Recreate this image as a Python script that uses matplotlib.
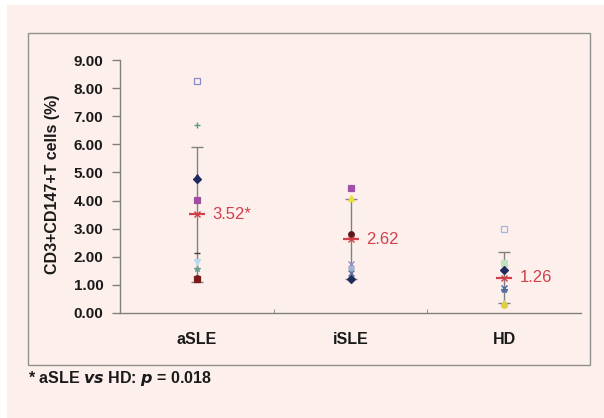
import matplotlib
matplotlib.use("Agg")
import matplotlib.pyplot as plt
from matplotlib.patches import Rectangle

plt.rcParams['font.family'] = ['Liberation Sans', 'DejaVu Sans']

# ---- data ----
categories = ["aSLE", "iSLE", "HD"]
means = [3.52, 2.62, 1.26]
sds = [2.40, 1.42, 0.92]
mean_labels = ["3.52*", "2.62", "1.26"]
yticks = [0, 1, 2, 3, 4, 5, 6, 7, 8, 9]

# individual points
aSLE_vals = [8.25, 6.70, 4.85, 4.75, 4.02, 2.13, 1.81, 1.57, 1.24, 1.20]
iSLE_vals = [4.45, 4.10, 2.80, 1.73, 1.55, 1.42, 1.20]
HD_vals = [2.98, 1.77, 1.53, 0.90, 0.82, 0.35, 0.28]

aSLE_style = [('s', '#8a8ac8', False), ('+', '#5a9a7a', True), ('^', '#2a2a6a', True),
              ('D', '#1f2a5e', True), ('s', '#a050a0', True), ('_', '#404040', True),
              ('v', '#b8d8f0', True), ('*', '#70a090', True), ('o', '#6a2a20', True),
              ('s', '#7a1a1a', True)]
iSLE_style = [('s', '#a050a8', True), ('^', '#e8e040', True), ('o', '#5a1a1a', True),
              ('x', '#9090c8', True), ('*', '#a0b0d0', True), ('x', '#6070a0', True),
              ('D', '#1f2a5e', True)]
HD_style = [('s', '#a0b8e0', False), ('s', '#c0e0c0', True), ('D', '#1f2a5e', True),
            ('x', '#4060a0', True), ('*', '#5070a0', True), ('^', '#c8d080', True),
            ('o', '#e0d040', True)]

all_vals = [aSLE_vals, iSLE_vals, HD_vals]
all_styles = [aSLE_style, iSLE_style, HD_style]

W, H = 604, 418
fig = plt.figure(figsize=(W / 100, H / 100), dpi=100, facecolor='white')
pink = '#fdf0ec'
fig.patches.append(Rectangle((7 / W, 0), 1 - 7 / W, 1 - 5 / H, transform=fig.transFigure,
                             facecolor=pink, edgecolor='none', zorder=-10))
fig.patches.append(Rectangle((28 / W, 1 - 365 / H), (590 - 28) / W, (365 - 33) / H,
                             transform=fig.transFigure, facecolor='none',
                             edgecolor='#909090', linewidth=1.0, zorder=-5))

ax = fig.add_axes([120 / W, 1 - 313 / H, (581 - 120) / W, (313 - 60) / H])
ax.set_facecolor('none')
xs = [1, 2, 3]

for x, m, s in zip(xs, means, sds):
    ax.errorbar([x], [m], yerr=[[s], [s]], fmt='none', ecolor='#808080',
                elinewidth=1.0, capsize=4, capthick=1.0, zorder=2)

for x, vals, styles in zip(xs, all_vals, all_styles):
    for v, (mk, col, filled) in zip(vals, styles):
        if mk in ('+', 'x', '_'):
            ax.plot([x], [v], marker=mk, color=col, markersize=4, mew=1.0,
                    linestyle='none', zorder=3)
        else:
            ax.plot([x], [v], marker=mk, markersize=4,
                    markerfacecolor=col if filled else 'none',
                    markeredgecolor=col, mew=0.9, linestyle='none', zorder=3)

red = '#d0404a'
for x, m, lab in zip(xs, means, mean_labels):
    ax.plot([x], [m], marker='_', color=red, markersize=12, mew=1.6,
            linestyle='none', zorder=4)
    ax.plot([x], [m], marker='x', color=red, markersize=4.5, mew=1.0,
            linestyle='none', zorder=4)
    ax.text(x + 0.10, m, lab, color=red, fontsize=12, va='center', ha='left', zorder=5)

ax.set_xlim(0.5, 3.5)
ax.set_ylim(0, 9)
ax.set_yticks(yticks)
ax.set_yticklabels([f"{t:.2f}" for t in yticks], fontsize=11, fontweight='bold',
                   color='#1a1a1a')
ax.set_xticks(xs)
ax.set_xticklabels(categories, fontsize=11.5, fontweight='bold', color='#1a1a1a')
ax.set_xticks([1.5, 2.5], minor=True)
ax.tick_params(axis='x', which='major', length=0, pad=14)
ax.tick_params(axis='x', which='minor', direction='in', length=3, color='#808080')
ax.tick_params(axis='y', direction='out', length=6, width=1, color='#808080', pad=6)
for sp in ['top', 'right']:
    ax.spines[sp].set_visible(False)
for sp in ['left', 'bottom']:
    ax.spines[sp].set_color('#808080')
    ax.spines[sp].set_linewidth(1.0)

fig.text(53 / W, 1 - 184.5 / H, "CD3+CD147+T cells (%)", rotation=90, fontsize=11.5,
         fontweight='bold', ha='center', va='center', color='#1a1a1a')

fig.text(28 / W, 1 - 379 / H,
         r"* aSLE $\boldsymbol{vs}$ HD: $\boldsymbol{p}$ = 0.018",
         fontsize=11.5, fontweight='bold', ha='left', va='center', color='#1a1a1a')

fig.savefig("out.png", dpi=100, facecolor=fig.get_facecolor())
